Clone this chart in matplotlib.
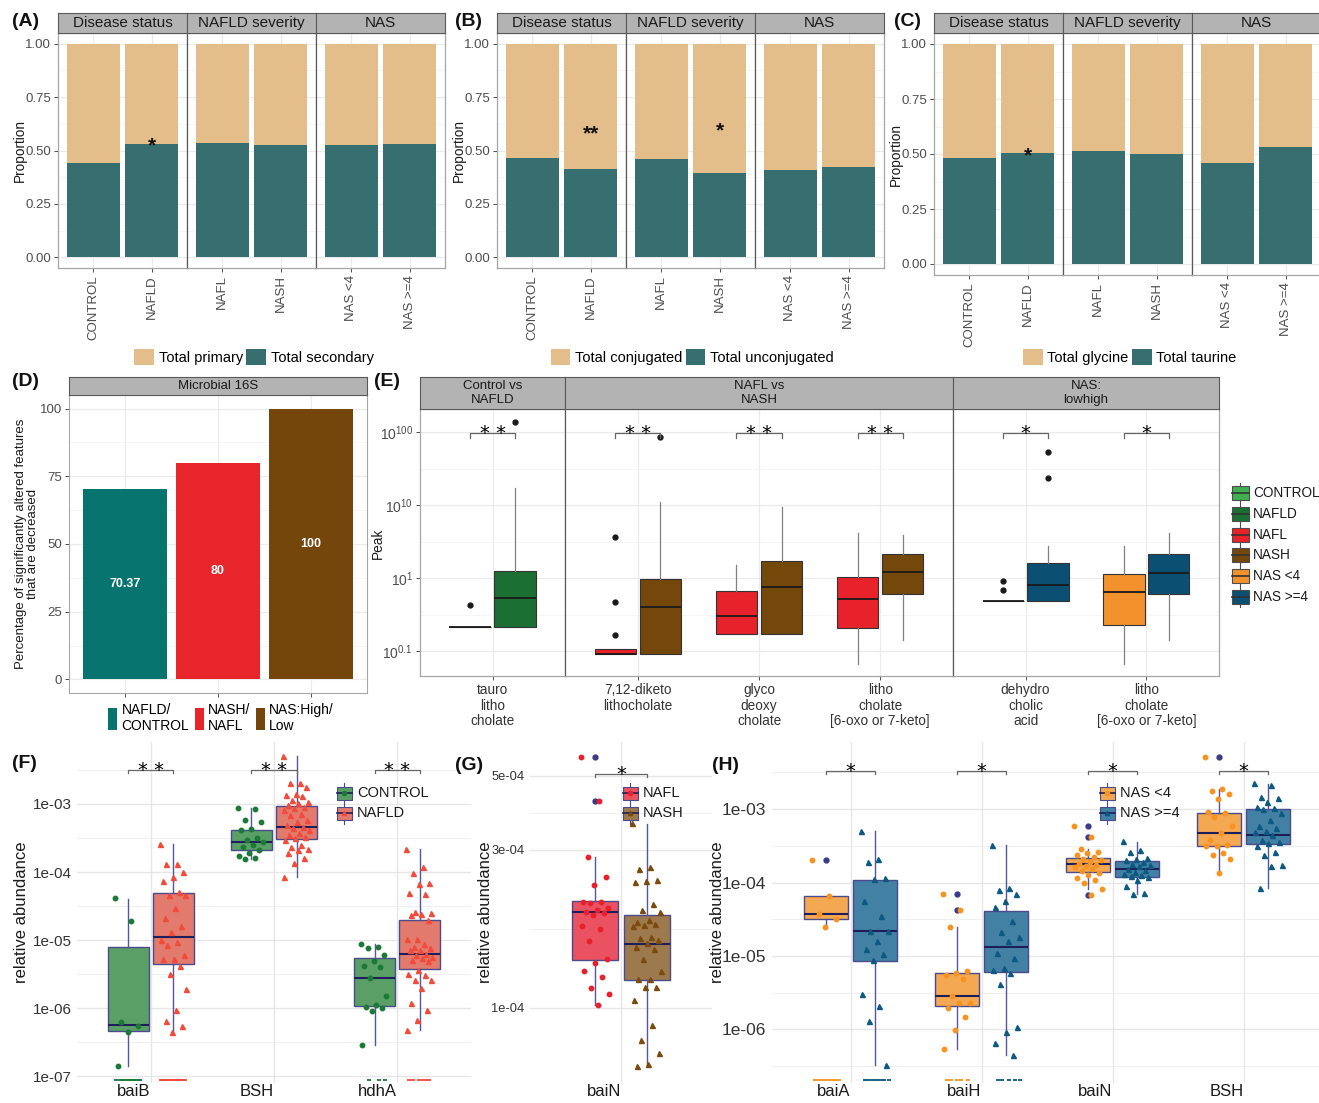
import numpy as np
import matplotlib.pyplot as plt
from matplotlib.patches import Rectangle, Patch
from matplotlib.lines import Line2D
from matplotlib.transforms import Affine2D
from matplotlib.ticker import FixedLocator, NullFormatter

plt.rcParams['font.family'] = ['Liberation Sans', 'DejaVu Sans']
plt.rcParams['mathtext.fontset'] = 'custom'
plt.rcParams['mathtext.rm'] = 'Liberation Sans'
plt.rcParams['mathtext.it'] = 'Liberation Sans:italic'
plt.rcParams['mathtext.bf'] = 'Liberation Sans:bold'

W, H = 1319, 1103

# ---------------- (A)-(C) stacked proportions ----------------
facet_names = ['Disease status', 'NAFLD severity', 'NAS']
facet_levels = [['CONTROL', 'NAFLD'], ['NAFL', 'NASH'], ['NAS <4', 'NAS >=4']]
# lower (teal) segment of each bar, the rest is the tan segment
secondary_prop = [0.440, 0.529, 0.533, 0.526, 0.526, 0.529]
unconjugated_prop = [0.467, 0.415, 0.462, 0.397, 0.407, 0.421]
taurine_prop = [0.480, 0.505, 0.515, 0.500, 0.459, 0.533]
# significance marks: (bar index, label, baseline y)
sig_A = [(1, '*', 0.496)]
sig_B = [(1, '**', 0.551), (3, '*', 0.568)]
sig_C = [(1, '*', 0.465)]

# ---------------- (D) ----------------
d_labels = ['NAFLD/\nCONTROL', 'NASH/\nNAFL', 'NAS:High/\nLow']
d_values = [70.37, 80, 100]
d_colors = ['#087470', '#e8252b', '#74460b']

# ---------------- (E) peaks on a log10(log10(Peak)) axis ----------------
e_facets = ['Control vs\nNAFLD', 'NAFL vs\nNASH', 'NAS:\nlowhigh']
e_compounds = [['tauro\nlitho\ncholate'],
               ['7,12-diketo\nlithocholate', 'glyco\ndeoxy\ncholate', 'litho\ncholate\n[6-oxo or 7-keto]'],
               ['dehydro\ncholic\nacid', 'litho\ncholate\n[6-oxo or 7-keto]']]
e_groups = [('CONTROL', 'NAFLD'), ('NAFL', 'NASH'), ('NAS <4', 'NAS >=4')]
# (low, q1, median, q3, high) per compound and group
e_stats = [
    [[(-0.67, -0.67, -0.67, -0.67, -0.67), (-0.67, -0.67, -0.27, 0.10, 1.23)]],
    [[(-1.04, -1.04, -1.04, -0.97, -0.97), (-1.04, -1.04, -0.40, -0.01, 1.04)],
     [(-0.77, -0.77, -0.52, -0.18, 0.18), (-0.77, -0.77, -0.12, 0.23, 0.97)],
     [(-1.18, -0.68, -0.29, 0.01, 0.62), (-0.85, -0.22, 0.08, 0.33, 0.59)]],
    [[(-0.32, -0.32, -0.32, -0.32, -0.32), (-0.32, -0.32, -0.10, 0.20, 0.44)],
     [(-1.18, -0.64, -0.19, 0.06, 0.44), (-0.85, -0.22, 0.07, 0.33, 0.62)]],
]
e_outliers = [
    [[[-0.37], [2.14]]],
    [[[0.56, -0.33, -0.78], [1.93]], [[], []], [[], []]],
    [[[-0.16, -0.04], [1.37, 1.73]], [[], []]],
]
e_sig = [['* *'], ['* *', '* *', '* *'], ['*', '*']]
e_ticks = [-1, 0, 1, 2]
e_ticklabels = [r'$10^{0.1}$', r'$10^{1}$', r'$10^{10}$', r'$10^{100}$']
group_colors = {'CONTROL': '#41ae4f', 'NAFLD': '#1b6f33', 'NAFL': '#e8222b',
                'NASH': '#74470b', 'NAS <4': '#f3922d', 'NAS >=4': '#0b4f73'}

# ---------------- (F) CONTROL vs NAFLD relative abundance ----------------
f_genes = ['baiB', 'BSH', 'hdhA']
f_baiB_ctrl = [4.1e-5, 1.9e-5, 6.3e-7, 5.4e-7, 4.4e-7, 1.4e-7,
               0, 0, 0, 0, 0, 0, 0, 0, 0, 0, 0, 0]
f_baiB_nafld = [2.6e-4, 1.3e-4, 1.3e-4, 1.0e-4, 8.5e-5, 7.4e-5, 5.1e-5, 4.6e-5, 4.6e-5,
                3.0e-5, 2.1e-5, 1.6e-5, 1.3e-5, 1.0e-5, 9.5e-6, 8.5e-6, 6.0e-6, 5.2e-6,
                5.2e-6, 4.2e-6, 3.2e-6, 1.9e-6, 9.3e-7, 6.5e-7, 5.4e-7, 4.4e-7,
                0, 0, 0, 0, 0, 0, 0, 0, 0, 0, 0, 0, 0, 0, 0]
f_bsh_ctrl = [8.7e-4, 8.3e-4, 5.8e-4, 5.5e-4, 4.3e-4, 4.2e-4, 3.2e-4, 3.0e-4, 2.8e-4,
              2.5e-4, 2.3e-4, 2.1e-4, 1.9e-4, 1.7e-4, 1.6e-4, 1.55e-4]
f_bsh_nafld = [5.0e-3, 2.0e-3, 2.0e-3, 1.8e-3, 1.4e-3, 1.35e-3, 1.3e-3, 1.15e-3, 1.07e-3,
               1.02e-3, 9.8e-4, 9.1e-4, 8.7e-4, 8.1e-4, 7.2e-4, 6.9e-4, 5.8e-4, 5.5e-4,
               4.9e-4, 4.6e-4, 4.4e-4, 4.2e-4, 3.7e-4, 3.5e-4, 3.3e-4, 3.2e-4, 3.0e-4,
               2.5e-4, 2.3e-4, 2.2e-4, 2.1e-4, 1.9e-4, 1.6e-4, 1.35e-4, 8.5e-5]
f_hdhA_ctrl = [8.7e-6, 7.9e-6, 7.6e-6, 6.0e-6, 4.9e-6, 4.1e-6, 4.0e-6, 2.8e-6, 1.5e-6,
               1.1e-6, 1.05e-6, 1.0e-6, 9.1e-7, 2.9e-7, 0, 0, 0]
f_hdhA_nafld = [2.2e-4, 1.2e-4, 9.8e-5, 6.9e-5, 6.6e-5, 4.9e-5, 4.7e-5, 2.6e-5, 2.5e-5,
                2.4e-5, 2.3e-5, 1.95e-5, 1.05e-5, 1.02e-5, 8.9e-6, 7.9e-6, 7.6e-6, 7.2e-6,
                7.1e-6, 6.3e-6, 6.0e-6, 5.6e-6, 5.4e-6, 5.1e-6, 4.9e-6, 3.6e-6, 3.2e-6,
                3.1e-6, 2.6e-6, 2.6e-6, 1.95e-6, 1.2e-6, 9.3e-7, 6.6e-7, 4.7e-7,
                0, 0, 0, 0, 0, 0]
# (low, q1, median, q3, high) for baiB, BSH, hdhA
f_box_ctrl = [(1.4e-7, 4.6e-7, 5.6e-7, 7.9e-6, 4.0e-5),
              (1.55e-4, 2.1e-4, 2.8e-4, 4.2e-4, 8.7e-4),
              (2.9e-7, 1.07e-6, 2.8e-6, 5.4e-6, 8.7e-6)]
f_box_nafld = [(4.4e-7, 4.4e-6, 1.1e-5, 4.9e-5, 2.6e-4),
               (8.5e-5, 3.1e-4, 4.6e-4, 9.3e-4, 5.0e-3),
               (4.7e-7, 3.7e-6, 6.3e-6, 1.95e-5, 2.2e-4)]

# ---------------- (G) NAFL vs NASH ----------------
g_genes = ['baiN']
g_baiN_nafl = [5.71e-4, 4.21e-4, 2.84e-4, 2.48e-4, 2.34e-4, 2.09e-4, 2.08e-4, 2.07e-4,
               2.0e-4, 1.97e-4, 1.95e-4, 1.93e-4, 1.91e-4, 1.77e-4, 1.73e-4, 1.59e-4,
               1.40e-4, 1.37e-4, 1.29e-4, 1.24e-4, 1.15e-4, 1.10e-4, 1.02e-4]
g_baiN_nash = [3.60e-4, 2.65e-4, 2.62e-4, 2.43e-4, 2.42e-4, 2.40e-4, 2.05e-4, 1.97e-4,
               1.94e-4, 1.84e-4, 1.82e-4, 1.79e-4, 1.78e-4, 1.76e-4, 1.64e-4, 1.62e-4,
               1.60e-4, 1.57e-4, 1.53e-4, 1.51e-4, 1.40e-4, 1.29e-4, 1.22e-4, 1.22e-4,
               1.16e-4, 1.16e-4, 1.06e-4, 8.9e-5, 8.0e-5, 7.3e-5, 6.8e-5, 6.7e-5]
g_box_nafl = [(1.02e-4, 1.39e-4, 1.94e-4, 2.10e-4, 2.84e-4)]
g_box_nash = [(6.7e-5, 1.21e-4, 1.56e-4, 1.91e-4, 3.57e-4)]
g_out_nafl = [[5.71e-4, 4.21e-4]]

# ---------------- (H) NAS <4 vs NAS >=4 ----------------
h_genes = ['baiA', 'baiH', 'baiN', 'BSH']
h_baiA_lo = [2.0e-4, 6.6e-5, 3.7e-5, 3.2e-5, 2.45e-5, 0, 0, 0, 0, 0, 0, 0, 0]
h_baiA_hi = [5.1e-4, 2.1e-4, 1.9e-4, 1.17e-4, 1.1e-4, 5.6e-5, 3.5e-5, 2.2e-5, 2.2e-5,
             1.6e-5, 1.26e-5, 1.07e-5, 8.7e-6, 3.0e-6, 2.1e-6, 1.29e-6, 3.3e-7,
             0, 0, 0, 0, 0, 0, 0, 0]
h_baiH_lo = [6.9e-5, 4.2e-5, 2.5e-5, 6.3e-6, 5.9e-6, 5.5e-6, 4.9e-6, 2.9e-6, 2.3e-6,
             2.3e-6, 1.95e-6, 1.5e-6, 9.8e-7, 5.5e-7, 0, 0, 0, 0, 0]
h_baiH_hi = [3.2e-4, 8.5e-5, 7.8e-5, 6.9e-5, 5.6e-5, 4.6e-5, 3.0e-5, 2.1e-5, 1.8e-5,
             1.6e-5, 1.1e-5, 9.3e-6, 6.8e-6, 6.5e-6, 5.9e-6, 4.1e-6, 1.07e-6, 9.3e-7,
             6.5e-7, 4.5e-7, 0, 0, 0, 0, 0]
h_baiN_lo = [5.9e-4, 4.2e-4, 2.9e-4, 2.6e-4, 2.5e-4, 2.35e-4, 2.2e-4, 2.1e-4, 2.0e-4,
             1.9e-4, 1.8e-4, 1.74e-4, 1.66e-4, 1.62e-4, 1.51e-4, 1.45e-4, 1.35e-4,
             1.26e-4, 1.17e-4, 1.07e-4, 1.0e-4, 8.1e-5, 6.8e-5]
h_baiN_hi = [3.7e-4, 2.75e-4, 2.6e-4, 2.15e-4, 2.1e-4, 2.05e-4, 1.9e-4, 1.8e-4, 1.74e-4,
             1.66e-4, 1.55e-4, 1.48e-4, 1.41e-4, 1.32e-4, 1.26e-4, 1.23e-4, 1.2e-4,
             1.07e-4, 8.9e-5, 7.2e-5, 6.9e-5]
h_bsh_lo = [5.1e-3, 1.9e-3, 1.74e-3, 1.62e-3, 1.38e-3, 9.1e-4, 8.7e-4, 7.9e-4, 5.8e-4,
            4.7e-4, 3.8e-4, 3.2e-4, 3.15e-4, 3.1e-4, 2.5e-4, 2.35e-4, 2.1e-4, 1.35e-4]
h_bsh_hi = [2.24e-3, 2.14e-3, 1.48e-3, 1.41e-3, 1.26e-3, 1.07e-3, 1.02e-3, 1.0e-3,
            8.9e-4, 7.1e-4, 5.9e-4, 5.5e-4, 5.1e-4, 4.8e-4, 4.5e-4, 3.8e-4, 3.6e-4,
            3.4e-4, 3.15e-4, 2.6e-4, 2.35e-4, 1.74e-4, 1.66e-4, 8.5e-5]
h_box_lo = [(2.45e-5, 3.2e-5, 3.7e-5, 6.6e-5, 6.6e-5),
            (5.5e-7, 2.1e-6, 2.9e-6, 5.9e-6, 2.5e-5),
            (8.1e-5, 1.41e-4, 1.8e-4, 2.15e-4, 2.9e-4),
            (1.35e-4, 3.15e-4, 4.7e-4, 8.7e-4, 1.9e-3)]
h_box_hi = [(3.3e-7, 8.5e-6, 2.2e-5, 1.07e-4, 5.1e-4),
            (4.5e-7, 6.0e-6, 1.32e-5, 4.1e-5, 3.2e-4),
            (6.9e-5, 1.2e-4, 1.55e-4, 1.95e-4, 3.6e-4),
            (8.5e-5, 3.3e-4, 4.5e-4, 1.0e-3, 2.2e-3)]
h_out_lo = [[2.0e-4], [6.9e-5, 4.2e-5], [5.9e-4, 4.2e-4, 6.8e-5], [5.1e-3]]

TAN, TEAL = '#e3bd8a', '#376f70'
GRID = '#ebebeb'

fig = plt.figure(figsize=(W / 100, H / 100), dpi=100, facecolor='white')
pix = Affine2D().scale(1 / W, -1 / H).translate(0, 1) + fig.transFigure


def add_ax(x0, y0, x1, y1, **kw):
    return fig.add_axes([x0 / W, 1 - y1 / H, (x1 - x0) / W, (y1 - y0) / H], **kw)


def strip(x0, y0, x1, y1, text, size):
    s = add_ax(x0, y0, x1, y1, facecolor='#b3b3b3')
    s.set_xticks([])
    s.set_yticks([])
    for sp in s.spines.values():
        sp.set_color('#595959')
        sp.set_linewidth(0.8)
    s.text(0.5, 0.5, text, ha='center', va='center', fontsize=size, color='#1a1a1a',
           transform=s.transAxes, linespacing=1.15)
    return s


def bracket(ax, xa, xb, y, drop, label, log=False):
    ylo = y / 10 ** drop if log else y - drop
    ax.plot([xa, xa, xb, xb], [ylo, y, y, ylo], color='#666666', lw=0.9,
            clip_on=False, zorder=6)
    ax.annotate(label, xy=((xa + xb) / 2, y), xytext=(0, -4.5), textcoords='offset points',
                ha='center', va='baseline', fontsize=14, family='DejaVu Sans',
                annotation_clip=False, zorder=6)


def box_key(xc, yc, fill, edge, med, marker=None, mcolor=None, w=15, h=13, tail=4):
    fig.add_artist(Line2D([xc, xc], [yc - h / 2 - tail, yc + h / 2 + tail], transform=pix,
                          color=edge, lw=0.8, zorder=3))
    fig.add_artist(Rectangle((xc - w / 2, yc - h / 2), w, h, transform=pix, facecolor=fill,
                             edgecolor=edge, lw=0.8, zorder=4))
    fig.add_artist(Line2D([xc - w / 2, xc + w / 2], [yc, yc], transform=pix, color=med,
                          lw=1.2, zorder=5))
    if marker:
        fig.add_artist(Line2D([xc], [yc], transform=pix, marker=marker, ms=3, color=mcolor,
                              ls='none', zorder=6))


def stacked_panel(x0, x1, y_top, y_bot, lower, sig, leg_labels, leg_x):
    fw = (x1 - x0) / 3
    axes = []
    for k in range(3):
        ax = add_ax(x0 + k * fw, y_top, x0 + (k + 1) * fw, y_bot)
        lo = np.array(lower[2 * k:2 * k + 2])
        pos = np.arange(1, 3)
        ax.bar(pos, lo, 0.9, color=TEAL, zorder=2)
        ax.bar(pos, 1 - lo, 0.9, bottom=lo, color=TAN, zorder=2)
        ax.set_xlim(0.4, 2.6)
        ax.set_ylim(-0.05, 1.05)
        ax.set_yticks([0, 0.25, 0.5, 0.75, 1])
        ax.set_yticks([0.125, 0.375, 0.625, 0.875], minor=True)
        ax.grid(True, which='major', color=GRID, lw=0.9)
        ax.grid(True, which='minor', axis='y', color='#f4f4f4', lw=0.6)
        ax.set_axisbelow(True)
        ax.set_xticks(pos)
        ax.set_xticklabels(facet_levels[k], rotation=90, fontsize=9.5, color='#4d4d4d')
        ax.tick_params(which='minor', length=0)
        ax.tick_params(length=3, color='#4d4d4d', width=0.7, pad=2)
        if k == 0:
            ax.set_yticklabels(['0.00', '0.25', '0.50', '0.75', '1.00'], fontsize=9.5,
                               color='#4d4d4d')
        else:
            ax.tick_params(axis='y', left=False, labelleft=False)
        for sp in ax.spines.values():
            sp.set_color('#a6a6a6')
            sp.set_linewidth(0.9)
        if k > 0:
            ax.spines['left'].set_color('#595959')
        strip(x0 + k * fw, y_top - 20, x0 + (k + 1) * fw, y_top, facet_names[k], 11)
        axes.append(ax)
    for idx, label, y in sig:
        axes[idx // 2].text(idx % 2 + 1, y, label, ha='center', va='baseline', fontsize=15,
                            fontweight='bold', color='#111111', zorder=5)
    fig.text(x0 - 38, (y_top + y_bot) / 2, 'Proportion', transform=pix, rotation=90,
             ha='center', va='center', fontsize=9.8, color='#1a1a1a')
    handles = [Patch(facecolor=TAN, label=leg_labels[0]),
               Patch(facecolor=TEAL, label=leg_labels[1])]
    fig.legend(handles=handles, loc='center', bbox_to_anchor=(leg_x, 357), bbox_transform=pix,
               ncol=2, frameon=False, fontsize=10.5, handlelength=1.35, handleheight=1.35,
               handletextpad=0.3, columnspacing=0.25, borderpad=0, borderaxespad=0)


# ---- (A), (B), (C)
stacked_panel(58, 445, 33, 268, secondary_prop, sig_A, ['Total primary', 'Total secondary'], 254)
stacked_panel(497, 884, 33, 268, unconjugated_prop, sig_B,
              ['Total conjugated', 'Total unconjugated'], 692)
stacked_panel(934, 1321, 33, 275, taurine_prop, sig_C, ['Total glycine', 'Total taurine'], 1130)

# ---- (D)
axd = add_ax(69, 395, 367, 693)
strip(69, 377, 367, 395, 'Microbial 16S', 9.5)
dpos = np.arange(1, 4)
axd.bar(dpos, d_values, 0.9, color=d_colors, zorder=2)
for x, v in zip(dpos, d_values):
    axd.text(x, v / 2, f'{v:g}', ha='center', va='center', color='white', fontsize=9,
             fontweight='bold', zorder=3)
axd.set_xlim(0.4, 3.6)
axd.set_ylim(-5, 105)
axd.set_yticks([0, 25, 50, 75, 100])
axd.set_yticks([12.5, 37.5, 62.5, 87.5], minor=True)
axd.set_xticks(dpos)
axd.set_xticklabels([])
axd.grid(True, which='major', color=GRID, lw=0.9)
axd.grid(True, which='minor', axis='y', color='#f4f4f4', lw=0.6)
axd.set_axisbelow(True)
axd.tick_params(which='minor', length=0)
axd.tick_params(length=3, color='#4d4d4d', width=0.7, labelsize=9.5, labelcolor='#4d4d4d', pad=2)
for sp in axd.spines.values():
    sp.set_color('#a6a6a6')
fig.text(27, 544, 'Percentage of significantly altered features\nthat are decreased',
         transform=pix, rotation=90, ha='center', va='center', fontsize=9.5,
         color='#1a1a1a', linespacing=1.0)
fig.legend(handles=[Patch(facecolor=c, label=l) for c, l in zip(d_colors, d_labels)],
           loc='center', bbox_to_anchor=(221, 718), bbox_transform=pix, ncol=3,
           frameon=False, fontsize=10, handlelength=0.65, handleheight=2.0,
           handletextpad=0.3, columnspacing=0.4, borderpad=0, borderaxespad=0,
           labelspacing=0)

# ---- (E)
e_bounds = [(420, 565), (565, 953), (953, 1219)]
for k, (xa, xb) in enumerate(e_bounds):
    ax = add_ax(xa, 409, xb, 676)
    strip(xa, 377, xb, 409, e_facets[k], 9.5)
    n = len(e_compounds[k])
    ax.set_xlim(0.4, n + 0.6)
    ax.set_ylim(-1.342, 2.315)
    for i in range(n):
        for j, grp in enumerate(e_groups[k]):
            lo, q1, med, q3, hi = e_stats[k][i][j]
            pos = i + 1 + (-0.186 if j == 0 else 0.186)
            ax.bxp([dict(whislo=lo, q1=q1, med=med, q3=q3, whishi=hi,
                         fliers=e_outliers[k][i][j])],
                   positions=[pos], widths=0.34, patch_artist=True, showcaps=False,
                   manage_ticks=False,
                   boxprops=dict(facecolor=group_colors[grp], edgecolor='#333333', lw=0.8),
                   medianprops=dict(color='#1a1a1a', lw=1.3),
                   whiskerprops=dict(color='#808080', lw=0.9),
                   flierprops=dict(marker='o', markerfacecolor='#1a1a1a',
                                   markeredgecolor='#1a1a1a', markersize=3.5))
        bracket(ax, i + 1 - 0.186, i + 1 + 0.186, 1.99, 0.07, e_sig[k][i])
    ax.set_xticks(np.arange(1, n + 1))
    ax.set_xticklabels(e_compounds[k], fontsize=9.8, color='#333333', linespacing=1.15)
    ax.set_yticks(e_ticks)
    ax.set_yticks([-0.5, 0.5, 1.5], minor=True)
    ax.grid(True, which='major', color=GRID, lw=0.9)
    ax.grid(True, which='minor', axis='y', color='#f4f4f4', lw=0.6)
    ax.set_axisbelow(True)
    ax.tick_params(which='minor', length=0)
    ax.tick_params(length=3, color='#4d4d4d', width=0.7, pad=2)
    if k == 0:
        ax.set_yticklabels(e_ticklabels, fontsize=10, color='#4d4d4d')
    else:
        ax.tick_params(axis='y', left=False, labelleft=False)
    for sp in ax.spines.values():
        sp.set_color('#a6a6a6')
        sp.set_linewidth(0.9)
    if k > 0:
        ax.spines['left'].set_color('#595959')
fig.text(378, 543, 'Peak', transform=pix, rotation=90, ha='center', va='center',
         fontsize=9.8, color='#1a1a1a')
for yk, grp in zip([493, 514, 535, 555, 576, 597], group_colors):
    box_key(1240, yk, group_colors[grp], '#4d4d4d', '#333333', w=17, h=14, tail=3)
    fig.text(1253, yk, grp, transform=pix, ha='left', va='center', fontsize=9.8,
             color='#1a1a1a')


# ---- (F), (G), (H)
def abundance_panel(box, genes, groups, points, boxes, outliers, styles, ylim, yticks,
                    ylabels, minor, xright, off, width, sig, sig_y, drop, ysize):
    ax = add_ax(*box)
    ax.set_yscale('log')
    ax.set_ylim(*ylim)
    ax.set_xlim(0.4, xright)
    for sp in ax.spines.values():
        sp.set_visible(False)
    ax.yaxis.set_major_locator(FixedLocator(yticks))
    ax.set_yticklabels(ylabels)
    ax.yaxis.set_minor_locator(FixedLocator(minor))
    ax.yaxis.set_minor_formatter(NullFormatter())
    n = len(genes)
    ax.set_xticks(np.arange(1, n + 1))
    ax.set_xticklabels(genes, ha='right')
    ax.tick_params(which='both', length=0)
    ax.tick_params(axis='y', labelsize=ysize, labelcolor='#333333', pad=4)
    ax.tick_params(axis='x', labelsize=12, labelcolor='#1a1a1a', pad=1)
    ax.grid(True, which='major', color='#e6e6e6', lw=1.0)
    ax.grid(True, which='minor', axis='y', color='#efefef', lw=0.7)
    ax.set_axisbelow(True)
    floor = ylim[0] * 10 ** 0.045
    for i in range(n):
        for j, grp in enumerate(groups):
            fill, pcol, mk = styles[grp]
            pos = i + 1 + (-off if j == 0 else off)
            lo, q1, med, q3, hi = boxes[j][i]
            fl = outliers[j][i] if outliers[j] is not None else []
            ax.bxp([dict(whislo=lo, q1=q1, med=med, q3=q3, whishi=hi, fliers=fl)],
                   positions=[pos], widths=width, patch_artist=True, showcaps=False,
                   manage_ticks=False,
                   boxprops=dict(facecolor=fill, edgecolor='#4a4a8c', lw=1.0),
                   medianprops=dict(color='#1e1e5a', lw=1.5),
                   whiskerprops=dict(color='#55559a', lw=1.0),
                   flierprops=dict(marker='o', markerfacecolor='#3a3a8a',
                                   markeredgecolor='#3a3a8a', markersize=3.5))
            vals = np.asarray(points[i][j], dtype=float)
            k = np.arange(len(vals))
            xj = pos + ((k * 0.618034) % 1 - 0.5) * 0.64 * width
            nz = vals > 0
            ax.plot(xj[nz], vals[nz], ls='none', marker=mk, ms=3.2 if mk == 'o' else 3.6,
                    color=pcol, zorder=4)
            if (~nz).any():
                ax.plot(xj[~nz], np.full((~nz).sum(), floor), ls='none', marker='_', ms=3.5,
                        mew=1.3, color=pcol, zorder=4, clip_on=False)
        bracket(ax, i + 1 - off, i + 1 + off, sig_y, drop, sig[i], log=True)
    return ax


f_styles = {'CONTROL': ('#5aa066', '#1c7a37', 'o'), 'NAFLD': ('#e27b6d', '#f24b3b', '^')}
abundance_panel((77, 742, 471, 1083), f_genes, ['CONTROL', 'NAFLD'],
                [(f_baiB_ctrl, f_baiB_nafld), (f_bsh_ctrl, f_bsh_nafld),
                 (f_hdhA_ctrl, f_hdhA_nafld)],
                [f_box_ctrl, f_box_nafld], [None, None], f_styles,
                (10 ** -7.1, 10 ** -2.09), [1e-7, 1e-6, 1e-5, 1e-4, 1e-3],
                ['1e-07', '1e-06', '1e-05', '1e-04', '1e-03'],
                10 ** np.array([-6.5, -5.5, -4.5, -3.5, -2.5]), 3.6, 0.183, 0.335,
                ['* *', '* *', '* *'], 10 ** -2.5, 0.045, 11)

g_styles = {'NAFL': ('#ea5262', '#ea1f2c', 'o'), 'NASH': ('#9d7a4d', '#7b4b0c', '^')}
abundance_panel((530, 742, 712, 1083), g_genes, ['NAFL', 'NASH'],
                [(g_baiN_nafl, g_baiN_nash)], [g_box_nafl, g_box_nash], [g_out_nafl, None],
                g_styles, (10 ** -4.226, 10 ** -3.199), [1e-4, 3e-4, 5e-4],
                ['1e-04', '3e-04', '5e-04'], 10 ** np.array([-3.412, -3.761]), 1.6,
                0.17, 0.30, ['*'], 10 ** -3.295, 0.009, 9.3)

h_styles = {'NAS <4': ('#f4a852', '#f7931e', 'o'), 'NAS >=4': ('#4280a4', '#0c5a82', '^')}
abundance_panel((772, 742, 1319, 1083), h_genes, ['NAS <4', 'NAS >=4'],
                [(h_baiA_lo, h_baiA_hi), (h_baiH_lo, h_baiH_hi), (h_baiN_lo, h_baiN_hi),
                 (h_bsh_lo, h_bsh_hi)],
                [h_box_lo, h_box_hi], [h_out_lo, None], h_styles,
                (10 ** -6.728, 10 ** -2.088), [1e-6, 1e-5, 1e-4, 1e-3],
                ['1e-06', '1e-05', '1e-04', '1e-03'],
                10 ** np.array([-6.5, -5.5, -4.5, -3.5, -2.5]), 4.576, 0.187, 0.336,
                ['*', '*', '*', '*'], 10 ** -2.483, 0.04, 12.5)

for xl in (22, 486, 717):
    fig.text(xl, 912, 'relative abundance', transform=pix, rotation=90, ha='center',
             va='center', fontsize=12, color='#1a1a1a')

# legends for the abundance panels
for xc, styles in ((344, f_styles), (630, g_styles), (1107, h_styles)):
    for yk, (grp, (fill, pcol, mk)) in zip([793, 813], styles.items()):
        box_key(xc, yk, fill, '#4a4a8c', '#1e1e5a', marker=mk, mcolor=pcol)
        fig.text(xc + 13, yk, grp, transform=pix, ha='left', va='center', fontsize=10.5,
                 color='#1a1a1a')

# panel letters
for lab, x, y in [('(A)', 12, 21), ('(B)', 455, 21), ('(C)', 894, 21), ('(D)', 12, 381),
                  ('(E)', 374, 381), ('(F)', 12, 764), ('(G)', 455, 765), ('(H)', 712, 765)]:
    fig.text(x, y, lab, transform=pix, ha='left', va='center', fontsize=14,
             fontweight='bold', color='#111111')

fig.savefig('out.png', dpi=100)
